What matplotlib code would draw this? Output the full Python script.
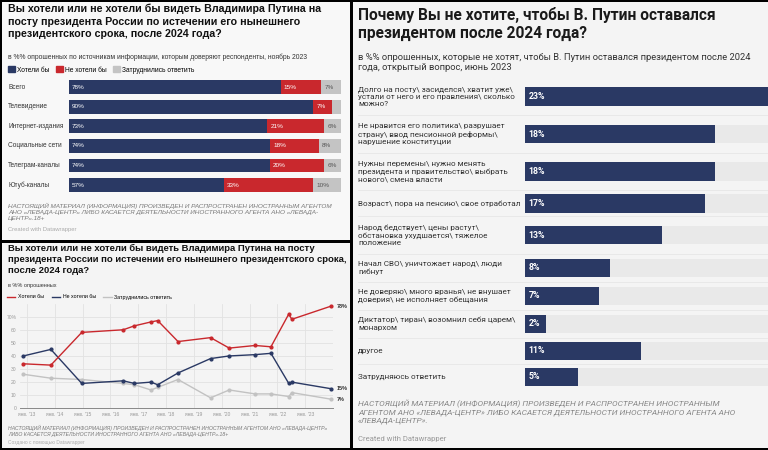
import numpy as np
import matplotlib.pyplot as plt
from matplotlib.patches import Patch, Rectangle
from matplotlib.lines import Line2D

# хотели бы / не хотели бы видеть Путина - по источникам информации, ноябрь 2023
sources = ["Всего", "Телевидение", "Интернет-издания", "Социальные сети",
           "Телеграм-каналы", "Ютуб-каналы"]
want = [78, 90, 73, 74, 74, 57]
not_want = [15, 7, 21, 18, 20, 33]
hard = [7, 3, 6, 8, 6, 10]

# динамика (даты опросов в долях года)
dates = [2012.87, 2013.86, 2014.97, 2016.46, 2016.86, 2017.46, 2017.70, 2018.43,
         2019.60, 2020.27, 2021.20, 2021.77, 2022.41, 2022.52, 2023.92]
line_want = [34, 33, 58, 60, 63, 66, 67, 51, 54, 46, 48, 47, 72, 68, 78]
line_not = [40, 45, 19, 21, 19, 20, 18, 27, 38, 40, 41, 42, 19, 20, 15]
line_hard = [26, 23, 22, 19, 18, 14, 16, 22, 8, 14, 11, 11, 9, 12, 7]
years = list(range(2013, 2024))
year_labels = ["янв. '%02d" % (y % 100) for y in years]

# почему не хотите, июнь 2023
reasons = [
    "Долго на посту\\ засиделся\\ хватит уже\\\nустали от него и его правления\\ сколько\nможно?",
    "Не нравится его политика\\ разрушает\nстрану\\ ввод пенсионной реформы\\\nнарушение конституции",
    "Нужны перемены\\ нужно менять\nпрезидента и правительство\\ выбрать\nнового\\ смена власти",
    "Возраст\\ пора на пенсию\\ свое отработал",
    "Народ бедствует\\ цены растут\\\nобстановка ухудшается\\ тяжелое\nположение",
    "Начал СВО\\ уничтожает народ\\ люди\nгибнут",
    "Не доверяю\\ много вранья\\ не внушает\nдоверия\\ не исполняет обещания",
    "Диктатор\\ тиран\\ возомнил себя царем\\\nмонархом",
    "другое",
    "Затрудняюсь ответить",
]
reason_pct = [23, 18, 18, 17, 13, 8, 7, 2, 11, 5]

NAVY = '#2a3964'
RED = '#c9282d'
GRAY = '#c4c4c4'
TRACK = '#e9e9e9'

W, H = 768, 450


def box(x, y, w, h):
    return [x / W, 1 - (y + h) / H, w / W, h / H]


def ftext(x, y, s, **kw):
    kw.setdefault('va', 'top')
    kw.setdefault('ha', 'left')
    fig.text(x / W, 1 - y / H, s, **kw)


def panel(x, y, w, h, col):
    fig.add_artist(Rectangle((x / W, 1 - (y + h) / H), w / W, h / H,
                             transform=fig.transFigure, facecolor=col,
                             edgecolor='none', zorder=-5))


fig = plt.figure(figsize=(7.68, 4.5), dpi=100, facecolor='black')
panel(2, 2, 348, 238, '#f8f8f8')
panel(2, 243, 348, 205, '#f4f4f4')
panel(353, 2, 415, 446, '#f4f4f4')

LEFT = 'Liberation Sans'
RIGHT = 'Roboto'

# ---------- панель 1: по источникам ----------
ftext(8, 4, "Вы хотели или не хотели бы видеть Владимира Путина на\n"
      "посту президента России по истечении его нынешнего\n"
      "президентского срока, после 2024 года?",
      family=LEFT, fontsize=7.7, fontweight='bold', linespacing=1.3, color='#111')
ftext(8, 54, "в %% опрошенных по источникам информации, которым доверяют респонденты, ноябрь 2023",
      family=LEFT, fontsize=4.9, color='#333')

ax1 = fig.add_axes(box(68.5, 77.2, 272, 117.7))
y = np.arange(len(sources))
left = np.zeros(len(sources))
for vals, col, tc in [(want, NAVY, 'white'), (not_want, RED, 'white'), (hard, GRAY, '#555')]:
    ax1.barh(y, vals, left=left, color=col, height=0.71, edgecolor='none')
    for yi, l, v in zip(y, left, vals):
        if v >= 5:
            ax1.text(l + 1.2, yi, f"{v}%", color=tc, fontsize=4.6, va='center',
                     family=LEFT)
    left += np.array(vals)
for yi, name in zip(y, sources):
    ax1.text(-22.2, yi, name, ha='left', va='center', fontsize=4.7, color='#333',
             family=LEFT, clip_on=False)
ax1.set_xlim(0, 100)
ax1.set_ylim(len(sources) - 0.5, -0.5)
ax1.axis('off')
ax1.legend(handles=[Patch(color=NAVY, label="Хотели бы"),
                    Patch(color=RED, label="Не хотели бы"),
                    Patch(color=GRAY, label="Затруднились ответить")],
           loc='center left', bbox_to_anchor=(8 / W, 1 - 70 / H),
           bbox_transform=fig.transFigure, ncol=3, frameon=False,
           handlelength=1.0, handleheight=1.0, handletextpad=0.4,
           columnspacing=0.9, borderpad=0, borderaxespad=0,
           prop={'family': LEFT, 'size': 4.8})

ftext(8, 203, "НАСТОЯЩИЙ МАТЕРИАЛ (ИНФОРМАЦИЯ) ПРОИЗВЕДЕН И РАСПРОСТРАНЕН ИНОСТРАННЫМ АГЕНТОМ\n"
      "АНО «ЛЕВАДА-ЦЕНТР» ЛИБО КАСАЕТСЯ ДЕЯТЕЛЬНОСТИ ИНОСТРАННОГО АГЕНТА АНО «ЛЕВАДА-\n"
      "ЦЕНТР».18+", family=LEFT, fontsize=4.6, style='italic', color='#777', linespacing=1.2)
ftext(8, 227.5, "Created with Datawrapper", family=LEFT, fontsize=4.2, color='#aaa')

# ---------- панель 2: динамика ----------
ftext(8, 244, "Вы хотели или не хотели бы видеть Владимира Путина на посту\n"
      "президента России по истечении его нынешнего президентского срока,\n"
      "после 2024 года?", family=LEFT, fontsize=6.8, fontweight='bold',
      linespacing=1.25, color='#111')
ftext(8, 285, "в %% опрошенных", family=LEFT, fontsize=4, color='#333', va='center')

ax2 = fig.add_axes(box(20, 303.6, 313, 104.7))
ax2.set_facecolor('none')
for vals, col, z in [(line_hard, '#c2c2c2', 2), (line_not, NAVY, 3), (line_want, RED, 4)]:
    ax2.plot(dates, vals, color=col, lw=1.0, marker='o', ms=2.0, zorder=z)
    ax2.text(dates[-1] + 0.2, vals[-1], f"{vals[-1]}%", fontsize=4, fontweight='bold',
             va='center', color='#333', family=LEFT, clip_on=False)
ax2.set_xlim(2012.75, 2024.0)
ax2.set_ylim(0, 80)
ax2.set_xticks(years)
ax2.set_xticklabels(year_labels, fontsize=3.6, color='#999', family=LEFT)
yt = list(range(0, 80, 10))
ax2.set_yticks(yt)
ax2.set_yticklabels([str(v) if v < 70 else "70%" for v in yt], fontsize=3.6,
                    color='#999', family=LEFT)
ax2.grid(color='#e2e2e2', lw=0.6)
ax2.set_axisbelow(True)
for s in ['top', 'right', 'left']:
    ax2.spines[s].set_visible(False)
ax2.spines['bottom'].set_color('#888')
ax2.spines['bottom'].set_linewidth(0.7)
ax2.tick_params(length=0, pad=2.5)
ax2.legend(handles=[Line2D([], [], color=RED, lw=1, label="Хотели бы"),
                    Line2D([], [], color=NAVY, lw=1, label="Не хотели бы"),
                    Line2D([], [], color='#c2c2c2', lw=1, label="Затруднились ответить")],
           loc='center left', bbox_to_anchor=(7 / W, 1 - 297 / H),
           bbox_transform=fig.transFigure, ncol=3, frameon=False,
           handlelength=1.6, handletextpad=0.5, columnspacing=1.4,
           borderpad=0, borderaxespad=0, prop={'family': LEFT, 'size': 3.8})

ftext(8, 425, "НАСТОЯЩИЙ МАТЕРИАЛ (ИНФОРМАЦИЯ) ПРОИЗВЕДЕН И РАСПРОСТРАНЕН ИНОСТРАННЫМ АГЕНТОМ АНО «ЛЕВАДА-ЦЕНТР»\n"
      "ЛИБО КАСАЕТСЯ ДЕЯТЕЛЬНОСТИ ИНОСТРАННОГО АГЕНТА АНО «ЛЕВАДА-ЦЕНТР».18+",
      family=LEFT, fontsize=3.7, style='italic', color='#777', linespacing=1.2)
ftext(8, 440, "Создано с помощью Datawrapper", family=LEFT, fontsize=3.5, color='#aaa')

# ---------- панель 3: причины ----------
ftext(358, 7, "Почему Вы не хотите, чтобы В. Путин оставался\nпрезидентом после 2024 года?",
      family=RIGHT, fontsize=11.2, fontweight='bold', linespacing=1.25, color='#1a1a1a')
ftext(358, 52.5, "в %% опрошенных, которые не хотят, чтобы В. Путин оставался президентом после 2024\n"
      "года, открытый вопрос, июнь 2023", family=RIGHT, fontsize=6.75, color='#333',
      linespacing=1.2)

line_counts = [r.count("\n") + 1 for r in reasons]
row_h = {1: 26, 2: 28, 3: 37.5}
heights = np.array([row_h[n] for n in line_counts])
bottoms = np.cumsum(heights)
centers = bottoms - heights / 2
total = bottoms[-1]
xmax = max(reason_pct)
lab_x = (358 - 525) / 243 * xmax

ax3 = fig.add_axes(box(525, 77.95, 243, total))
ax3.barh(centers, [xmax] * len(reasons), height=18.5, color=TRACK, edgecolor='none')
ax3.barh(centers, reason_pct, height=18.5, color=NAVY, edgecolor='none')
for c, v, r in zip(centers, reason_pct, reasons):
    ax3.text(0.35, c, f"{v}%", color='white', fontsize=6.3, fontweight='bold',
             va='center', family=RIGHT)
    ax3.text(lab_x, c, r, ha='left', va='center', fontsize=5.85, color='#333',
             family=RIGHT, linespacing=1.25, clip_on=False)
for b in bottoms[:-1]:
    ax3.plot([lab_x, xmax], [b, b], color='#e4e4e4', lw=0.5, clip_on=False)
ax3.set_xlim(0, xmax)
ax3.set_ylim(total, 0)
ax3.axis('off')

ftext(358, 399.5, "НАСТОЯЩИЙ МАТЕРИАЛ (ИНФОРМАЦИЯ) ПРОИЗВЕДЕН И РАСПРОСТРАНЕН ИНОСТРАННЫМ\n"
      "АГЕНТОМ АНО «ЛЕВАДА-ЦЕНТР» ЛИБО КАСАЕТСЯ ДЕЯТЕЛЬНОСТИ ИНОСТРАННОГО АГЕНТА АНО\n"
      "«ЛЕВАДА-ЦЕНТР».", family=RIGHT, fontsize=6, style='italic', color='#888',
      linespacing=1.3)
ftext(358, 435.5, "Created with Datawrapper", family=RIGHT, fontsize=5.5, color='#999')

fig.savefig('out.png', dpi=100, facecolor='black')
